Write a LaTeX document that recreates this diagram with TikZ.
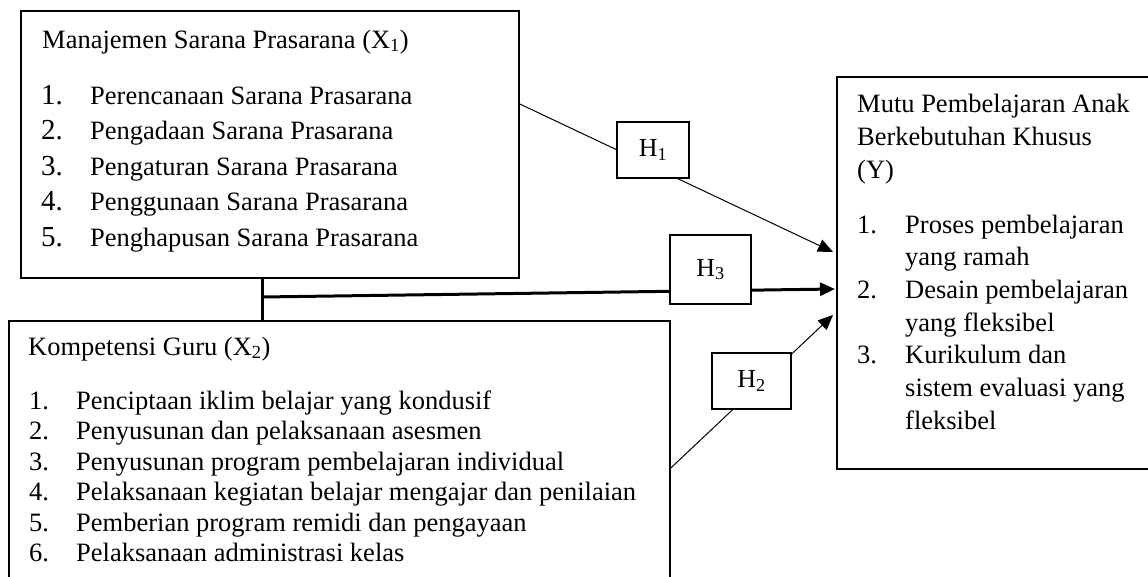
\documentclass[tikz,border=0pt]{standalone}
\usepackage{fontspec}
\setmainfont{Liberation Serif}
\usetikzlibrary{arrows.meta,calc}
\begin{document}
\begin{tikzpicture}[x=1pt,y=-1pt,
  box/.style={draw, line width=1.8pt, inner sep=0pt, anchor=north west, fill=white},
  hbox/.style={draw, line width=1.5pt, fill=white, inner sep=0pt, font=\fontsize{26}{30}\selectfont},
  txt/.style={anchor=base west, inner sep=0pt, font=\fontsize{26.5}{30}\selectfont},
  bignum/.style={anchor=base west, inner sep=0pt, font=\fontsize{29}{34}\selectfont},
  thinarrow/.style={line width=1pt, -{Triangle[length=15pt,width=13pt]}},
  thickarrow/.style={line width=3pt, -{Triangle[length=15pt,width=13pt]}}]
\clip (0,0) rectangle (1148,576);
\fill[white] (0,0) rectangle (1148,576);

% boxes
\node[box, minimum width=498pt, minimum height=267pt] (X1) at (20,10) {};
\node[box, minimum width=661pt, minimum height=300pt] (X2) at (8,320) {};
\node[box, minimum width=340pt, minimum height=392pt] (Y) at (836,76) {};

% connectors
\coordinate (j) at (262,297);
\draw[line width=3pt] (X1.south -| j) -- (X2.north -| j);
\draw[thickarrow] (j) -- ($(Y.north west)+(-1,213)$);
\draw[thinarrow] ($(X1.north east)+(0,94)$) -- ($(Y.north west)+(-3,176)$);
\draw[thinarrow] ($(X2.north east)+(0,148)$) -- ($(Y.north west)+(-3,239)$);

% hypothesis boxes
\node[hbox, minimum width=72pt, minimum height=56pt] (H1) at (653,150) {H\textsubscript{1}};
\node[hbox, minimum width=81pt, minimum height=69pt] (H3) at (710.5,269.5) {H\textsubscript{3}};
\node[hbox, minimum width=79pt, minimum height=56pt] (H2) at (751.5,381) {H\textsubscript{2}};

% X1 text
\node[txt] (x1t) at (42,48) {Manajemen Sarana Prasarana (X\textsubscript{1})};
\node[bignum] (x1n1) at (41,104) {1.};
\node[txt] (x1i1) at (90,104) {Perencanaan Sarana Prasarana};
\node[bignum] (x1n2) at (41,139.5) {2.};
\node[txt] (x1i2) at (90,139.5) {Pengadaan Sarana Prasarana};
\node[bignum] (x1n3) at (41,175) {3.};
\node[txt] (x1i3) at (90,175) {Pengaturan Sarana Prasarana};
\node[bignum] (x1n4) at (41,210.5) {4.};
\node[txt] (x1i4) at (90,210.5) {Penggunaan Sarana Prasarana};
\node[bignum] (x1n5) at (41,246) {5.};
\node[txt] (x1i5) at (90,246) {Penghapusan Sarana Prasarana};

% X2 text
\node[txt] (x2t) at (28,355) {Kompetensi Guru (X\textsubscript{2})};
\node[txt] (x2n1) at (29,409) {1.};
\node[txt] (x2i1) at (76,409) {Penciptaan iklim belajar yang kondusif};
\node[txt] (x2n2) at (29,439.5) {2.};
\node[txt] (x2i2) at (76,439.5) {Penyusunan dan pelaksanaan asesmen};
\node[txt] (x2n3) at (29,470) {3.};
\node[txt] (x2i3) at (76,470) {Penyusunan program pembelajaran individual};
\node[txt] (x2n4) at (29,500.5) {4.};
\node[txt] (x2i4) at (76,500.5) {Pelaksanaan kegiatan belajar mengajar dan penilaian};
\node[txt] (x2n5) at (29,531) {5.};
\node[txt] (x2i5) at (76,531) {Pemberian program remidi dan pengayaan};
\node[txt] (x2n6) at (29,561.5) {6.};
\node[txt] (x2i6) at (76,561.5) {Pelaksanaan administrasi kelas};

% Y text
\node[txt] (yt1) at (857,112) {Mutu Pembelajaran Anak};
\node[txt] (yt2) at (857,145) {Berkebutuhan Khusus};
\node[txt] (yt3) at (857,178) {(Y)};
\node[txt] (yn1) at (857,233) {1.};
\node[txt] (yi1a) at (905,233) {Proses pembelajaran};
\node[txt] (yi1b) at (905,265.7) {yang ramah};
\node[txt] (yn2) at (857,298.4) {2.};
\node[txt] (yi2a) at (905,298.4) {Desain pembelajaran};
\node[txt] (yi2b) at (905,331.1) {yang fleksibel};
\node[txt] (yn3) at (857,363.8) {3.};
\node[txt] (yi3a) at (905,363.8) {Kurikulum dan};
\node[txt] (yi3b) at (905,396.5) {sistem evaluasi yang};
\node[txt] (yi3c) at (905,429.2) {fleksibel};
\end{tikzpicture}
\end{document}
